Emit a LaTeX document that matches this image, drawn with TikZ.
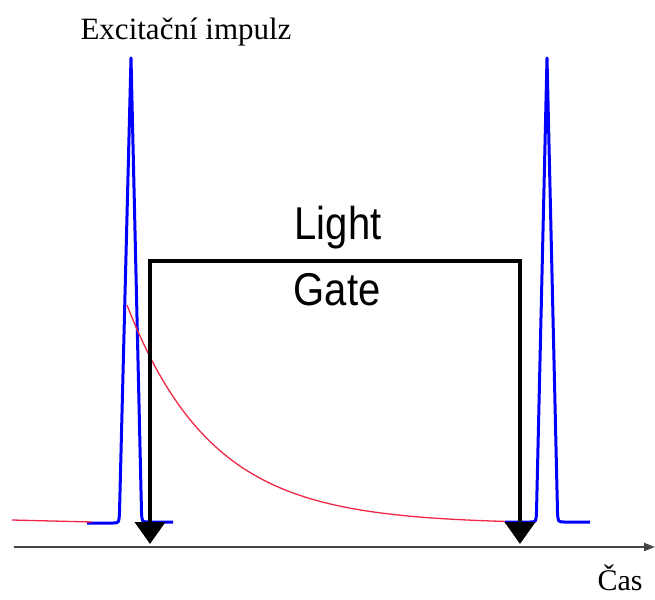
\documentclass[tikz,border=0pt]{standalone}
\usepackage{fontspec}
\setmainfont{Liberation Serif}
\newfontfamily\gatefont[FakeStretch=0.87]{Liberation Sans}
\usepackage{tikz}
\usetikzlibrary{arrows.meta, positioning, calc}
\usepackage{xcolor}
\definecolor{impulzblue}{RGB}{0,0,255}
\definecolor{dohasred}{RGB}{240,40,70}
\definecolor{osagray}{RGB}{70,70,70}

\begin{document}
\begin{tikzpicture}[x=1pt, y=-1pt,
    pulz/.style={line width=3pt, impulzblue, line join=round},
    dohas/.style={line width=1.3pt, dohasred},
    brana/.style={line width=4pt, black, line join=miter},
    sipka/.tip={Triangle[width=30pt, length=22pt]},
    osa/.style={line width=2pt, osagray, -{Triangle[width=8pt, length=11pt]}},
    popis/.style={inner sep=0pt, anchor=base}]
                \useasboundingbox (0,0) rectangle (655,599);

                % Body
                \coordinate (osaL) at (14,547);
                \coordinate (osaR) at (655,547);
                \coordinate (bL) at (150,544);
                \coordinate (bLt) at (150,261);
                \coordinate (bRt) at (520,261);
                \coordinate (bR) at (520,544);

                % Impulzy
                \draw[pulz] (87,523) -- (113,523) .. controls (119,523) .. (119.5,512)
                    -- (131,58) -- (141.5,512) .. controls (142,522) .. (148,522) -- (173,522);
                \draw[pulz] (505,522) -- (530,522) .. controls (536,522) .. (536.5,512)
                    -- (547,58) -- (557.5,512) .. controls (558,522) .. (564,522) -- (590,522);

                % Dohasinani
                \draw[dohas] (12,520) -- (92,522);
                \draw[dohas] plot[domain=127:505, samples=90, smooth] (\x, {524-219*exp(-(\x-127)/85)});

                % Brana
                \draw[brana, sipka-sipka] (bL) -- (bLt) -- (bRt) -- (bR);

                % Osa
                \draw[osa] (osaL) -- (osaR);

                % Popisky
                \node[popis, font=\fontsize{31}{31}\selectfont] (excit) at (186,40) {Excitační impulz};
                \node[popis, font=\gatefont\fontsize{46}{46}\selectfont] (light) at (338,239) {Light};
                \node[popis, font=\gatefont\fontsize{46}{46}\selectfont] (gate) at (337,305) {Gate};
                \node[popis, font=\fontsize{30}{30}\selectfont] (cas) at (620,590) {Čas};
            \end{tikzpicture}
\end{document}
